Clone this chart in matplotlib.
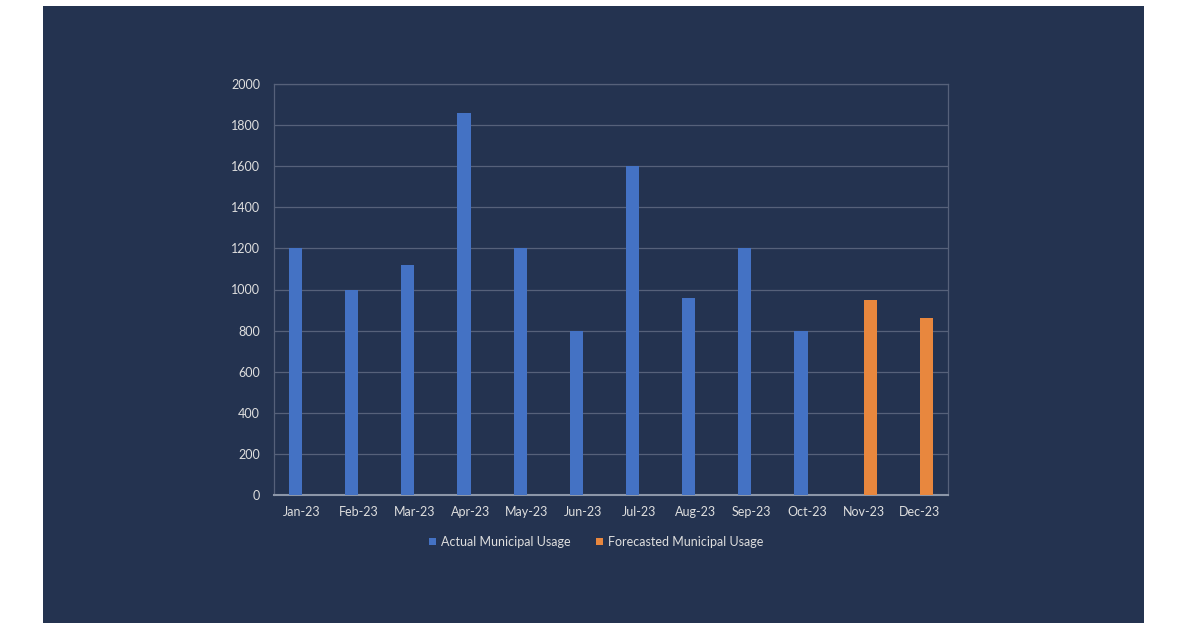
import matplotlib
matplotlib.use("Agg")
import matplotlib.pyplot as plt
from matplotlib.patches import Rectangle
import numpy as np

months = ["Jan-23", "Feb-23", "Mar-23", "Apr-23", "May-23", "Jun-23",
          "Jul-23", "Aug-23", "Sep-23", "Oct-23", "Nov-23", "Dec-23"]
actual = [1200, 1000, 1120, 1860, 1200, 800, 1600, 958, 1200, 800, np.nan, np.nan]
forecast = [np.nan] * 10 + [950, 862]
series_names = ["Actual Municipal Usage", "Forecasted Municipal Usage"]

BG = "#243350"
BLUE = "#4472C4"
ORANGE = "#E8873E"
TXT = "#DEDEDE"
GRID = "#56617A"

plt.rcParams['font.family'] = ['Lato', 'DejaVu Sans']

fig = plt.figure(figsize=(12, 6.3), dpi=100)
fig.patch.set_facecolor("white")
fig.add_artist(Rectangle((43/1200, 7/630), 1101/1200, 617/630,
                         transform=fig.transFigure, facecolor=BG,
                         edgecolor="none", zorder=0))

ax = fig.add_axes([274/1200, 135/630, 674/1200, 411/630])
ax.set_facecolor(BG)
x = np.arange(len(months))
w = 0.235
ax.bar(x - w/2, actual, w, color=BLUE, label=series_names[0], zorder=3)
ax.bar(x + w/2, forecast, w, color=ORANGE, label=series_names[1], zorder=3)

ax.set_xlim(-0.5, len(months) - 0.5)
ax.set_ylim(0, 2000)
ax.set_yticks(range(0, 2001, 200))
ax.set_xticks(x)
ax.set_xticklabels(months)
ax.yaxis.grid(True, color=GRID, linewidth=0.9, zorder=0)
ax.set_axisbelow(True)
for s in ["left", "right", "top"]:
    ax.spines[s].set_color(GRID)
    ax.spines[s].set_linewidth(0.9)
ax.spines["bottom"].set_color("#8C96A8")
ax.spines["bottom"].set_linewidth(1.5)
ax.tick_params(axis="both", length=0, colors=TXT, labelsize=9)
ax.tick_params(axis="x", pad=8)
ax.tick_params(axis="y", pad=10)

leg = ax.legend(loc="upper center", bbox_to_anchor=(0.478, -0.072), ncol=2,
                frameon=False, fontsize=9, handlelength=0.55, handleheight=0.55,
                handletextpad=0.4, columnspacing=2.0, labelcolor=TXT)

fig.savefig("out.png", dpi=100, facecolor=fig.get_facecolor())
